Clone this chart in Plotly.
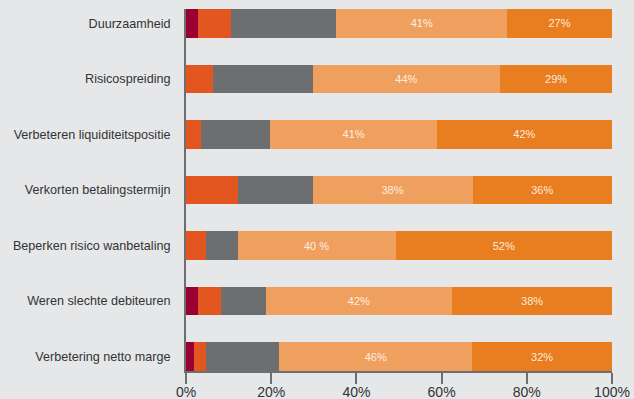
import plotly.graph_objects as go

categories = [
    "Duurzaamheid",
    "Risicospreiding",
    "Verbeteren liquiditeitspositie",
    "Verkorten betalingstermijn",
    "Beperken risico wanbetaling",
    "Weren slechte debiteuren",
    "Verbetering netto marge",
]

# segment widths (percent of bar)
seg_darkred = [2.7, 0, 0, 0, 0, 2.7, 1.8]
seg_red = [7.8, 6.3, 3.6, 12.3, 4.8, 5.6, 2.8]
seg_gray = [24.8, 23.4, 16.2, 17.4, 7.3, 10.4, 17.3]
seg_light = [40.1, 44.1, 39.1, 37.6, 37.1, 43.8, 45.3]
seg_orange = [24.6, 26.2, 41.1, 32.7, 50.8, 37.5, 32.8]

# printed labels
labels_light = ["41%", "44%", "41%", "38%", "40 %", "42%", "46%"]
labels_orange = ["27%", "29%", "42%", "36%", "52%", "38%", "32%"]

x_tickvals = [0, 20, 40, 60, 80, 100]
x_ticktext = ["0%", "20%", "40%", "60%", "80%", "100%"]

colors = ["#9B0033", "#E3561F", "#6D6E70", "#F0A05E", "#E87E1F"]
series = [seg_darkred, seg_red, seg_gray, seg_light, seg_orange]
texts = [None, None, None, labels_light, labels_orange]

fig = go.Figure()
for vals, col, txt in zip(series, colors, texts):
    fig.add_trace(go.Bar(
        y=categories,
        x=vals,
        orientation="h",
        marker=dict(color=col, line=dict(width=0)),
        width=0.52,
        text=txt,
        textposition="inside" if txt else "none",
        insidetextanchor="middle",
        textangle=0,
        constraintext="none",
        textfont=dict(family="Liberation Sans, Arial, sans-serif", size=11,
                      color="rgba(255,248,238,0.92)"),
        hoverinfo="skip",
    ))

fig.update_layout(
    barmode="stack",
    width=634,
    height=399,
    margin=dict(l=186, r=22, t=9, b=28, autoexpand=False),
    paper_bgcolor="#E6E7E9",
    plot_bgcolor="#E6E7E9",
    showlegend=False,
    font=dict(family="Liberation Sans, Arial, sans-serif", color="#333333"),
)
fig.update_xaxes(
    range=[0, 100],
    tickvals=x_tickvals,
    ticktext=x_ticktext,
    showgrid=False,
    zeroline=False,
    showline=True,
    linecolor="#6D6E70",
    linewidth=2,
    ticks="outside",
    ticklen=11,
    tickwidth=2,
    tickcolor="#6D6E70",
    tickfont=dict(size=14, color="#333333"),
    ticklabelstandoff=-4,
    automargin=False,
)
fig.update_yaxes(
    type="category",
    categoryorder="array",
    categoryarray=categories,
    range=[6.26, -0.26],
    showgrid=False,
    zeroline=False,
    showline=True,
    linecolor="#6D6E70",
    linewidth=2,
    ticks="outside",
    ticklen=11,
    tickcolor="rgba(0,0,0,0)",
    tickfont=dict(size=12.6, color="#333333"),
    automargin=False,
)

fig.write_html("out.html")
